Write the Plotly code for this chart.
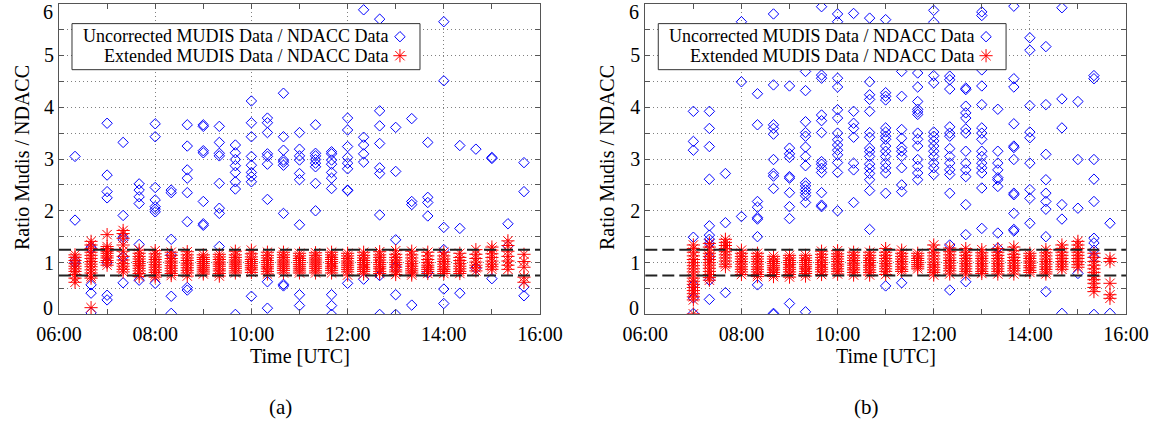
import plotly.graph_objects as go

FONT = "Liberation Serif, Times New Roman, Times, serif"

# ---------------- data : panel (a) ----------------
A_TIMES = ["06:20", "06:40", "07:00", "07:20", "07:40", "08:00", "08:20", "08:40", "09:00", "09:20",
           "09:40", "10:00", "10:20", "10:40", "11:00", "11:20", "11:40", "12:00", "12:20", "12:40",
           "13:00", "13:20", "13:40", "14:00", "14:20", "14:40", "15:00", "15:20", "15:40"]

A_UNCORRECTED = [
    [3.05, 1.82, 1.05, 1.0],
    [1.3, 1.27, 0.57, 0.41, 0.03],
    [3.69, 2.69, 2.37, 2.25, 1.0, 0.37, 0.28],
    [3.32, 1.91, 1.49, 1.44, 1.11, 0.61],
    [2.52, 2.4, 2.27, 2.14, 1.35, 0.66],
    [3.68, 3.43, 2.45, 2.21, 2.08, 2.03, 1.98, 0.6],
    [2.4, 2.35, 1.45, 1.15, 0.35, 0.02],
    [3.66, 3.25, 2.79, 2.63, 2.35, 1.79, 0.52, 0.47],
    [3.66, 3.63, 3.16, 3.12, 2.18, 1.75, 1.72],
    [3.63, 3.32, 3.11, 3.06, 2.53, 2.05, 1.95, 1.31],
    [3.27, 3.12, 2.99, 2.87, 2.74, 2.56, 2.42, 0.0],
    [4.12, 3.7, 3.43, 3.05, 2.88, 2.74, 2.66, 2.56, 0.35],
    [3.79, 3.7, 3.51, 3.1, 3.05, 2.9, 2.22, 0.63, 0.12],
    [4.27, 3.43, 3.17, 2.98, 2.94, 2.88, 1.95, 0.58, 0.55],
    [3.51, 3.19, 3.06, 2.98, 2.72, 2.6, 1.73, 0.38, 0.17],
    [3.66, 3.11, 3.06, 2.99, 2.92, 2.85, 2.53, 2.0],
    [3.14, 3.1, 2.98, 2.9, 2.74, 2.63, 2.43, 0.38, 0.17, 0.0],
    [3.79, 3.56, 3.24, 3.03, 2.92, 2.81, 2.4, 2.39, 0.6],
    [5.88, 3.42, 3.27, 3.1, 2.94, 0.68],
    [5.7, 3.93, 3.64, 3.3, 2.83, 2.72, 1.92, 0.75, 0.0],
    [3.61, 2.76, 1.44, 0.92, 0.38, 0.0],
    [3.78, 2.18, 2.12, 0.18],
    [3.32, 2.26, 2.16, 1.9, 0.8],
    [5.65, 4.51, 1.68, 1.25, 0.49, 0.21],
    [3.26, 1.66, 0.41],
    [3.19, 0.89],
    [3.03, 3.01, 0.69],
    [1.75, 1.32],
    [2.93, 2.37, 0.53, 0.36],
]

A_EXTENDED = [
    [1.15, 1.1, 1.04, 0.98, 0.93, 0.88, 0.83, 0.77, 0.7, 0.62],
    [1.41, 1.34, 1.27, 1.2, 1.14, 1.08, 1.02, 0.97, 0.92, 0.86, 0.8, 0.74, 0.7, 0.13],
    [1.54, 1.31, 1.27, 1.22, 1.18, 1.13, 1.09, 1.04, 1.0, 0.95],
    [1.62, 1.56, 1.47, 1.34, 1.22, 1.12, 1.05, 0.98, 0.93, 0.87, 0.82],
    [1.24, 1.18, 1.12, 1.07, 1.02, 0.98, 0.94, 0.89, 0.84, 0.79, 0.73],
    [1.23, 1.17, 1.11, 1.06, 1.01, 0.96, 0.91, 0.86, 0.81, 0.76, 0.72],
    [1.2, 1.14, 1.08, 1.03, 0.99, 0.94, 0.89, 0.84, 0.79, 0.75],
    [1.21, 1.15, 1.09, 1.04, 0.99, 0.95, 0.9, 0.85, 0.8, 0.74],
    [1.15, 1.1, 1.06, 1.02, 0.98, 0.94, 0.9, 0.86, 0.82, 0.78],
    [1.16, 1.11, 1.06, 1.01, 0.97, 0.93, 0.88, 0.84, 0.79, 0.74],
    [1.22, 1.15, 1.1, 1.05, 1.01, 0.97, 0.93, 0.89, 0.84, 0.8],
    [1.24, 1.17, 1.11, 1.06, 1.02, 0.98, 0.94, 0.9, 0.86, 0.81],
    [1.2, 1.14, 1.09, 1.04, 1.0, 0.96, 0.92, 0.88, 0.83, 0.78],
    [1.2, 1.15, 1.1, 1.05, 1.01, 0.97, 0.93, 0.89, 0.85, 0.8],
    [1.18, 1.13, 1.08, 1.04, 1.0, 0.96, 0.92, 0.88, 0.84, 0.8],
    [1.19, 1.14, 1.09, 1.05, 1.01, 0.97, 0.93, 0.89, 0.84, 0.8],
    [1.2, 1.15, 1.1, 1.06, 1.02, 0.98, 0.93, 0.89, 0.85, 0.8],
    [1.18, 1.13, 1.08, 1.03, 0.99, 0.95, 0.91, 0.87, 0.82, 0.76],
    [1.2, 1.14, 1.09, 1.04, 1.0, 0.96, 0.91, 0.87, 0.83, 0.78],
    [1.21, 1.15, 1.1, 1.05, 1.0, 0.96, 0.92, 0.88, 0.83, 0.79],
    [1.23, 1.16, 1.1, 1.05, 1.0, 0.96, 0.91, 0.86, 0.82, 0.77],
    [1.22, 1.15, 1.09, 1.03, 0.98, 0.93, 0.88, 0.84, 0.8, 0.76],
    [1.2, 1.13, 1.06, 1.0, 0.95, 0.91, 0.87, 0.83, 0.79],
    [1.2, 1.13, 1.07, 1.02, 0.97, 0.92, 0.87, 0.83, 0.79],
    [1.18, 1.1, 1.04, 0.98, 0.93, 0.88, 0.83, 0.79],
    [1.25, 1.16, 1.08, 1.01, 0.95, 0.9, 0.84],
    [1.3, 1.24, 1.17, 1.1, 1.03, 0.97, 0.92, 0.87],
    [1.42, 1.33, 1.22, 1.12, 1.03, 0.95, 0.87],
    [1.16, 1.02, 0.91, 0.72, 0.62],
]

# ---------------- data : panel (b) ----------------
B_TIMES = ["07:00", "07:20", "07:40", "08:00", "08:20", "08:40", "09:00", "09:20", "09:40", "10:00",
           "10:20", "10:40", "11:00", "11:20", "11:40", "12:00", "12:20", "12:40", "13:00", "13:20",
           "13:40", "14:00", "14:20", "14:40", "15:00", "15:20", "15:40"]

B_UNCORRECTED = [
    [3.92, 3.34, 3.17, 1.49, 0.57, 0.32, 0.02],
    [3.92, 3.59, 3.24, 2.61, 1.71, 1.53, 1.45, 1.37, 1.11, 0.66, 0.29],
    [2.72, 1.77, 0.42],
    [5.65, 4.49, 1.89],
    [4.26, 3.66, 2.18, 2.07, 1.87, 1.84, 1.5, 0.57],
    [5.8, 4.43, 3.66, 3.59, 3.48, 2.99, 2.72, 2.67, 2.43, 0.02, 0.0],
    [4.41, 3.21, 3.1, 3.03, 2.66, 2.63, 2.35, 2.08, 1.85, 0.21],
    [4.69, 4.32, 3.72, 3.51, 3.44, 3.23, 3.05, 2.87, 2.54, 2.48, 2.41, 2.35, 2.29, 2.16, 0.05],
    [5.94, 4.62, 4.56, 3.85, 3.74, 3.51, 2.95, 2.9, 2.82, 2.74, 2.35, 2.11, 2.08],
    [5.8, 5.65, 4.56, 4.39, 3.95, 3.79, 3.5, 3.37, 3.27, 3.17, 3.08, 2.93, 2.74, 2.0],
    [5.81, 3.92, 3.69, 3.59, 3.42, 2.92, 2.79, 2.16],
    [5.72, 4.49, 4.24, 4.15, 3.92, 3.51, 3.42, 3.21, 3.14, 3.05, 2.9, 2.82, 2.72, 2.6, 2.39, 1.64],
    [5.69, 4.28, 4.21, 4.14, 3.6, 3.52, 3.44, 3.38, 3.25, 3.15, 3.05, 2.92, 2.83, 2.73, 2.34, 0.55],
    [4.69, 4.21, 3.57, 3.4, 3.22, 3.15, 3.05, 2.83, 2.5, 2.37, 0.61],
    [4.66, 4.39, 4.11, 3.96, 3.91, 3.86, 3.5, 3.38, 3.25, 2.99, 2.86, 2.73, 2.6],
    [5.87, 5.64, 4.61, 4.47, 3.52, 3.44, 3.35, 3.25, 3.15, 3.05, 2.92, 2.83, 2.7],
    [4.6, 4.53, 4.35, 3.62, 3.5, 3.44, 3.2, 3.05, 2.92, 2.79, 2.7, 2.34, 1.34, 0.47],
    [4.37, 4.34, 4.02, 3.89, 3.79, 3.58, 3.5, 3.15, 2.92, 2.79, 2.66, 2.12, 1.54, 0.63],
    [5.84, 5.77, 4.72, 4.41, 4.05, 3.6, 3.5, 3.38, 3.15, 3.05, 2.92, 2.83, 2.73, 2.44, 1.66],
    [3.96, 3.15, 2.92, 2.79, 2.64, 2.6, 2.47, 1.57, 1.28],
    [5.95, 4.55, 4.39, 3.68, 3.25, 3.22, 2.99, 2.34, 2.31, 1.95, 1.64, 1.61],
    [5.34, 5.1, 4.03, 3.52, 3.41, 2.92, 2.41, 2.24, 1.76],
    [5.17, 4.05, 3.09, 2.6, 2.34, 2.18, 2.03, 1.5, 0.44],
    [5.92, 4.16, 3.6, 2.12, 1.84, 0.02],
    [4.11, 2.99, 2.05, 0.79],
    [4.61, 4.55, 2.99, 2.61, 2.18, 1.47, 1.38, 1.24, 1.11, 0.0],
    [1.76, 0.02],
]

B_EXTENDED = [
    [1.34, 1.27, 1.2, 1.13, 1.06, 1.0, 0.94, 0.88, 0.82, 0.76, 0.7, 0.64, 0.58, 0.52, 0.46, 0.4, 0.34, 0.28, 0.01],
    [1.37, 1.3, 1.24, 1.18, 1.12, 1.06, 1.0, 0.95, 0.89, 0.83, 0.77, 0.71, 0.66],
    [1.45, 1.39, 1.33, 1.27, 1.21, 1.15, 1.09, 1.03, 0.97, 0.92],
    [1.24, 1.18, 1.12, 1.07, 1.02, 0.97, 0.92, 0.87, 0.82, 0.77],
    [1.18, 1.12, 1.07, 1.02, 0.97, 0.92, 0.87, 0.82, 0.77, 0.73],
    [1.12, 1.07, 1.02, 0.98, 0.94, 0.9, 0.86, 0.81, 0.77, 0.73],
    [1.14, 1.09, 1.04, 1.0, 0.96, 0.91, 0.87, 0.82, 0.77, 0.72],
    [1.14, 1.09, 1.04, 1.0, 0.96, 0.92, 0.88, 0.83, 0.79, 0.74],
    [1.22, 1.16, 1.1, 1.05, 1.0, 0.96, 0.91, 0.87, 0.82, 0.77],
    [1.23, 1.17, 1.12, 1.07, 1.02, 0.97, 0.93, 0.88, 0.83, 0.78],
    [1.2, 1.14, 1.09, 1.04, 0.99, 0.95, 0.9, 0.86, 0.81, 0.76],
    [1.2, 1.14, 1.09, 1.04, 1.0, 0.95, 0.91, 0.86, 0.81, 0.76],
    [1.27, 1.2, 1.14, 1.08, 1.03, 0.98, 0.93, 0.88, 0.83, 0.77],
    [1.24, 1.18, 1.12, 1.07, 1.02, 0.97, 0.92, 0.87, 0.83],
    [1.18, 1.13, 1.08, 1.04, 1.0, 0.96, 0.92, 0.88],
    [1.34, 1.26, 1.19, 1.13, 1.07, 1.01, 0.96, 0.91, 0.86, 0.81, 0.76],
    [1.28, 1.21, 1.15, 1.09, 1.04, 0.99, 0.94, 0.89, 0.84, 0.78],
    [1.27, 1.2, 1.14, 1.08, 1.03, 0.98, 0.93, 0.88, 0.83, 0.78],
    [1.25, 1.19, 1.13, 1.08, 1.03, 0.98, 0.93, 0.88, 0.83, 0.79],
    [1.27, 1.2, 1.14, 1.08, 1.03, 0.98, 0.93, 0.88, 0.83, 0.78],
    [1.3, 1.23, 1.16, 1.1, 1.04, 0.99, 0.94, 0.89, 0.84, 0.78],
    [1.18, 1.13, 1.08, 1.03, 0.99, 0.94, 0.9, 0.85, 0.81],
    [1.25, 1.19, 1.13, 1.07, 1.02, 0.97, 0.92, 0.87, 0.82, 0.78],
    [1.34, 1.27, 1.2, 1.14, 1.08, 1.02, 0.97, 0.92, 0.87],
    [1.41, 1.34, 1.27, 1.2, 1.14, 1.08, 1.02, 0.96, 0.91],
    [1.18, 1.1, 1.02, 0.95, 0.88, 0.81, 0.74, 0.67, 0.6, 0.52, 0.44],
    [1.08, 1.02, 0.6, 0.38, 0.31],
]

# ---------------- axes / labels ----------------
X_TICK_VALUES = [6, 8, 10, 12, 14, 16]
X_TICK_LABELS = ["06:00", "08:00", "10:00", "12:00", "14:00", "16:00"]
X_MINOR_VALUES = [7, 9, 11, 13, 15]
Y_TICK_VALUES = [0, 0.5, 1, 1.5, 2, 2.5, 3, 3.5, 4, 4.5, 5, 5.5, 6]
Y_TICK_LABELS = ["", "", "1", "", "2", "", "3", "", "4", "", "5", "", ""]
Y_EDGE_LABELS = ["0", "6"]          # end labels, nudged inward as in the original
REF_LINES = [0.75, 1.25]
LEGEND_LABELS = ["Uncorrected MUDIS Data / NDACC Data", "Extended MUDIS Data / NDACC Data"]
Y_TITLE = "Ratio Mudis / NDACC"
X_TITLE = "Time [UTC]"
PANEL_LABELS = ["(a)", "(b)"]

BLUE = "#0000ff"
RED = "#ff0000"


def to_hours(hhmm):
    h, m = hhmm.split(":")
    return int(h) + int(m) / 60.0


def flatten(times, groups):
    xs, ys = [], []
    for t, vals in zip(times, groups):
        for v in vals:
            xs.append(to_hours(t))
            ys.append(v)
    return xs, ys


W, H = 1164, 423
X_DOMAINS = [[59 / W, 540 / W], [645.3 / W, 1126 / W]]
Y_DOMAIN = [1 - 314.4 / H, 1 - 3.6 / H]

fig = go.Figure()

panels = [(A_TIMES, A_UNCORRECTED, A_EXTENDED), (B_TIMES, B_UNCORRECTED, B_EXTENDED)]
for i, (times, unc, ext) in enumerate(panels):
    xa = "x" if i == 0 else "x2"
    ya = "y" if i == 0 else "y2"
    lg = "legend" if i == 0 else "legend2"
    ux, uy = flatten(times, unc)
    ex, ey = flatten(times, ext)
    fig.add_trace(go.Scatter(
        x=ux, y=uy, mode="markers", xaxis=xa, yaxis=ya, legend=lg, name=" ",
        marker=dict(symbol="diamond-open", size=8, color=BLUE, line=dict(width=1, color=BLUE)),
        showlegend=True, hoverinfo="skip"))
    fig.add_trace(go.Scatter(
        x=ex, y=ey, mode="markers", xaxis=xa, yaxis=ya, legend=lg, name=" ",
        marker=dict(symbol="asterisk-open", size=11, color=RED, line=dict(width=1, color=RED)),
        showlegend=True, hoverinfo="skip"))

axis_common = dict(
    showline=True, linecolor="#555555", linewidth=1, mirror="ticks",
    ticks="inside", ticklen=5, tickcolor="#555555",
    showgrid=True, gridcolor="#808080", griddash="1px,3px", gridwidth=1,
    zeroline=False, tickfont=dict(family=FONT, size=20, color="black"),
    automargin=False,
)

layout = dict(
    width=W, height=H,
    margin=dict(l=0, r=0, t=0, b=0),
    paper_bgcolor="white", plot_bgcolor="white",
    font=dict(family=FONT, color="black"),
    showlegend=True,
)

for i in range(2):
    sx = "" if i == 0 else "2"
    layout["xaxis" + sx] = dict(
        axis_common, domain=X_DOMAINS[i], range=[6, 16], anchor="y" + sx,
        tickmode="array", tickvals=X_TICK_VALUES, ticktext=X_TICK_LABELS,
        ticklabelstandoff=2,
        minor=dict(tickmode="array", tickvals=X_MINOR_VALUES, ticks="inside", ticklen=5,
                   tickcolor="#555555", showgrid=False),
    )
    layout["yaxis" + sx] = dict(
        axis_common, domain=Y_DOMAIN, range=[0, 6], anchor="x" + sx,
        tickmode="array", tickvals=Y_TICK_VALUES, ticktext=Y_TICK_LABELS,
    )
    leg = dict(
        x=X_DOMAINS[i][0] + 0.713 * (X_DOMAINS[i][1] - X_DOMAINS[i][0]) - 22 / W,
        y=1 - 22.2 / H, xanchor="left", yanchor="top",
        bgcolor="rgba(0,0,0,0)", borderwidth=0,
        font=dict(family=FONT, size=12), itemclick=False, itemdoubleclick=False,
    )
    layout["legend" if i == 0 else "legend2"] = leg

fig.update_layout(**layout)

shapes = []
annotations = []
for i in range(2):
    sx = "" if i == 0 else "2"
    for yv in REF_LINES:
        shapes.append(dict(type="line", xref="x" + sx + " domain", yref="y" + sx,
                           x0=0, x1=1, y0=yv, y1=yv, layer="above",
                           line=dict(color="#222222", width=2, dash="12px,5px")))
    shapes.append(dict(type="rect", xref="x" + sx + " domain", yref="y" + sx + " domain",
                       x0=0.027, x1=0.7505, y0=0.7874, y1=0.9356, layer="above",
                       fillcolor="white", line=dict(color="#333333", width=1)))
    for k, (lab, yy) in enumerate(zip(LEGEND_LABELS, [0.8947, 0.8325])):
        annotations.append(dict(text=lab, xref="x" + sx + " domain", yref="y" + sx + " domain",
                                x=0.688, y=yy, xanchor="right", yanchor="middle", showarrow=False,
                                font=dict(family=FONT, size=18, color="black")))
    # end tick labels of the ratio axis (shifted inward like the original figure)
    x_left = X_DOMAINS[i][0] - 4 / W
    for lab, ypix in zip(Y_EDGE_LABELS, [308, 11.7]):
        annotations.append(dict(text=lab, xref="paper", yref="paper", x=x_left, y=1 - ypix / H,
                                xanchor="right", yanchor="middle", showarrow=False,
                                font=dict(family=FONT, size=20, color="black")))
    annotations.append(dict(text=Y_TITLE, xref="paper", yref="paper",
                            x=(22 if i == 0 else 607) / W, y=1 - 158 / H, textangle=-90,
                            xanchor="center", yanchor="middle", showarrow=False,
                            font=dict(family=FONT, size=20, color="black")))
    annotations.append(dict(text=X_TITLE, xref="x" + sx + " domain", yref="paper",
                            x=0.5, y=1 - 356 / H, xanchor="center", yanchor="middle", showarrow=False,
                            font=dict(family=FONT, size=20, color="black")))
    annotations.append(dict(text=PANEL_LABELS[i], xref="x" + sx + " domain", yref="paper",
                            x=0.46, y=1 - 407 / H, xanchor="center", yanchor="middle", showarrow=False,
                            font=dict(family=FONT, size=21, color="black")))

fig.update_layout(shapes=shapes, annotations=annotations)

fig.write_html("out.html")
